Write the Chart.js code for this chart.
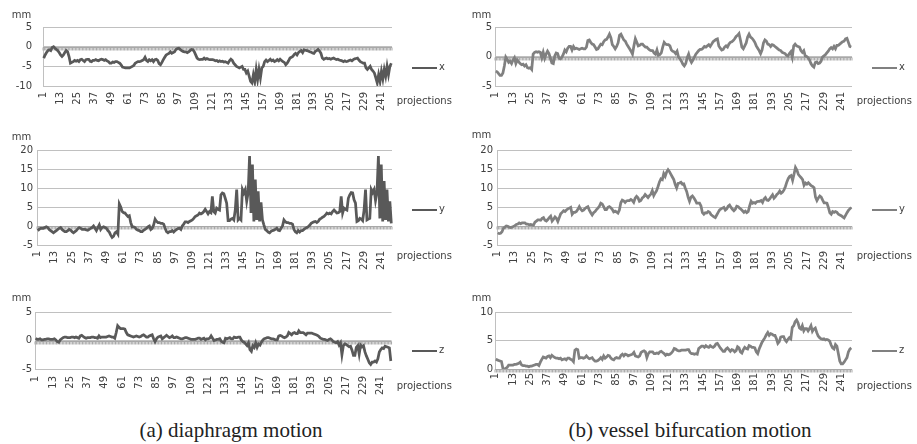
<!DOCTYPE html>
<html>
<head>
<meta charset="utf-8">
<script src="https://cdn.jsdelivr.net/npm/chart.js@4.4.1/dist/chart.umd.min.js"></script>
<style>
  body { margin: 0; background: #fff; width: 917px; height: 444px; position: relative; overflow: hidden; }
  canvas { position: absolute; }
  .txt { position: absolute; font-family: "DejaVu Sans", sans-serif; font-size: 10px; line-height: 12px; color: #404040; white-space: nowrap; }
  .legline { position: absolute; width: 25px; height: 0; }
  .cap { position: absolute; top: 417px; width: 460px; text-align: center; font-family: "Liberation Serif", serif; font-size: 21px; line-height: 26px; color: #222; white-space: nowrap; }
</style>
</head>
<body>
<div class="cap" style="left:1px">(a) diaphragm motion</div>
<div class="cap" style="left:460px">(b) vessel bifurcation motion</div>
<script>
// projection index 1..248, labelled every 12th
const projections = Array.from({ length: 248 }, (_, i) => String(i + 1));
const labelEvery = 12;

// (a) diaphragm motion, mm
const diaphragmX = [
  -2.9,-2.1,-1.5,-1.0,-0.8,-1.0,-0.2,0,-0.4,-0.7,-1.0,-1.5,
  -2.1,-2.5,-2.1,-1.5,-1.0,-1.3,-2.5,-4.2,-4.0,-3.8,-3.5,-3.7,
  -3.5,-3.8,-3.3,-3.2,-3.5,-3.8,-3.3,-3.2,-3.2,-3.7,-3.8,-3.5,
  -3.5,-3.3,-3.5,-3.6,-3.3,-3.2,-3.3,-3.5,-3.3,-3.6,-3.8,-4.2,
  -4.2,-3.9,-4.0,-3.8,-3.8,-4.0,-4.2,-4.6,-5.2,-5.3,-5.4,-5.4,
  -5.4,-5.4,-5.2,-5.0,-4.8,-4.2,-4.0,-3.8,-3.8,-3.7,-3.5,-3.3,
  -2.7,-3.5,-3.8,-3.3,-3.6,-3.3,-3.8,-3.3,-3.2,-3.5,-4.3,-4.6,
  -4.0,-3.3,-2.7,-2.1,-1.9,-1.7,-1.3,-1.7,-1.5,-1.3,-0.7,-0.5,
  -0.4,-0.7,-1.0,-1.2,-1.3,-1.3,-1.5,-1.3,-1.0,-0.7,-0.8,-1.3,
  -2.1,-2.9,-3.2,-3.3,-3.2,-3.2,-2.9,-3.2,-3.0,-3.2,-3.3,-3.3,
  -3.3,-3.4,-3.6,-3.5,-3.8,-3.6,-3.8,-3.7,-3.9,-3.8,-4.0,-4.2,
  -3.6,-3.2,-3.5,-4.2,-4.6,-5.0,-5.2,-5.4,-5.2,-5.0,-5.8,-5.8,
  -6.7,-6.2,-7.5,-8.8,-9.2,-7.1,-8.8,-5.8,-8.3,-5.8,-7.9,-5.4,
  -5.0,-3.8,-3.4,-3.8,-3.5,-3.2,-3.6,-3.4,-3.8,-3.6,-3.3,-3.6,
  -3.2,-3.5,-3.8,-4.0,-4.6,-4.2,-3.6,-2.9,-2.7,-2.5,-2.0,-1.7,
  -2.1,-1.5,-1.2,-1.0,-1.5,-0.8,-0.9,-1.0,-1.1,-1.3,-1.4,-1.6,
  -1.7,-1.2,-1.0,-0.7,-1.1,-1.7,-2.9,-3.2,-3.0,-2.9,-3.1,-3.0,
  -3.2,-3.0,-2.9,-3.1,-3.3,-3.2,-3.4,-3.5,-3.6,-3.8,-3.6,-3.8,
  -3.7,-3.5,-3.4,-3.6,-3.3,-3.1,-3.0,-2.9,-3.4,-3.8,-4.0,-4.2,
  -4.2,-5.4,-5.8,-5.4,-5.0,-5.8,-6.2,-6.7,-7.9,-9.2,-7.1,-8.8,
  -6.3,-8.2,-5.8,-7.5,-5.0,-7.1,-5.0,-4.2
];
const diaphragmY = [
  -1.2,-0.9,-0.6,-0.6,-0.6,-0.4,-0.2,-0.4,-0.9,-1.2,-1.5,-1.8,
  -1.5,-1.2,-0.9,-0.6,-0.4,-0.9,-1.2,-1.5,-1.5,-1.2,-0.9,-1.1,
  -1.5,-1.8,-1.5,-1.2,-0.7,-0.4,-0.6,-0.9,-0.9,-0.9,-1.0,-1.1,
  -0.9,-0.6,-0.4,0,-0.6,-1.2,-0.4,0.3,-0.9,-0.4,-0.2,-0.4,
  -0.6,-1.2,-1.6,-2.4,-3.0,-2.7,-1.8,-1.5,-2.1,5.8,5.0,3.8,
  3.5,3.4,2.9,2.5,2.7,0.9,-0.2,-0.2,-0.4,-0.9,-1.1,-1.2,
  -1.5,-1.5,-1.1,-0.9,-0.6,-0.2,0,-0.9,-0.6,0.3,1.8,1.2,
  0.9,0.9,0.7,0.7,0.5,-0.6,-1.5,-1.8,-1.5,-1.5,-1.2,-1.6,
  -1.2,-0.9,-0.7,-0.6,-0.9,0,0.5,1.1,1.1,0.9,1.2,1.4,
  1.6,2.0,2.5,2.7,2.9,3.4,3.2,3.4,3.8,4.4,3.8,3.2,
  3.8,3.5,7.8,3.8,3.4,4.7,4.4,4.2,8.2,8.7,8.5,7.3,
  6.0,1.4,1.4,1.8,2.0,1.6,4.2,9.6,1.6,2.0,1.6,9.6,
  8.7,9.6,6.5,8.7,18.4,3.4,16.2,1.2,12.2,1.6,9.1,1.2,
  6.2,1.6,0.3,-0.9,-1.2,-1.6,-1.8,-1.4,-1.2,-1.1,-0.9,-0.6,
  -1.1,-1.2,-0.6,0,1.6,1.1,0.9,0.9,0.7,0.7,0.5,-0.9,
  -1.5,-1.8,-1.2,-1.6,-1.2,-1.2,-0.9,-0.6,-0.4,-0.2,0.2,0.7,
  0.9,1.1,1.2,0.9,1.2,1.8,2.0,2.3,2.5,2.9,3.4,3.2,
  3.4,3.2,3.8,4.2,3.8,3.4,3.5,3.8,7.8,3.4,4.7,4.4,
  4.2,7.3,8.2,8.8,8.7,6.9,6.0,1.2,1.4,2.0,1.8,1.4,
  4.2,9.6,1.6,1.8,2.0,9.6,8.8,9.6,6.7,8.7,18.4,2.0,
  16.2,1.2,11.8,1.6,9.6,1.2,6.5,0.7
];
const diaphragmZ = [
  0.4,0.2,0.2,0.3,0.1,0.1,0.2,0.2,0.3,0.3,0.2,0.2,
  0.2,0.3,0.1,-0.2,-0.3,0.1,0.3,0.5,0.6,0.6,0.5,0.5,
  0.5,0.6,0.6,0.5,0.6,0.5,0.4,0.8,0.9,0.7,0.5,0.4,
  0.5,0.5,0.5,0.6,0.6,0.5,0.5,0.4,0.8,0.5,0.6,0.6,
  0.6,0.6,0.7,0.8,0.7,0.6,0.6,0.4,1.4,2.6,2.3,2.1,
  2.1,2.1,2.0,1.4,1.0,0.9,0.8,0.7,0.6,0.7,0.8,0.7,
  0.6,0.7,0.9,1.0,0.8,0.6,0.6,0.8,0.9,1.0,0.3,-0.2,
  0.3,0.6,0.7,0.8,0.3,0.5,0.7,0.9,0.7,0.5,0.6,0.8,
  0.5,0.5,0.6,0.5,0.4,0.3,0.3,0.4,0.5,0.5,0.4,0.3,
  0.2,0.2,0.2,0.2,0.3,0.4,0.4,0.2,0.3,0.4,0.1,0.3,
  0.3,0.4,0.8,0.4,0,0.1,0.2,0.2,0.3,-0.1,-0.3,-0.4,
  0.4,0.3,0.4,0.5,0.3,0.3,0.6,0.5,0.5,0.6,0.6,0.1,
  -0.2,-0.3,-0.6,-0.9,-0.4,-1.6,-1.9,-0.9,-1.2,-0.4,-1.2,-0.6,
  -0.8,-0.3,0.1,0.3,0.4,0.5,0.5,0.4,0.3,0.3,0.2,0.1,
  0.1,0.8,0.9,0.8,0.6,0.5,0.6,0.8,1.4,1.2,1.0,1.3,
  1.4,1.2,1.2,1.7,1.4,1.4,1.4,1.2,1.0,1.3,1.3,1.3,
  1.3,1.2,1.1,1.0,0.9,0.7,0.4,0.3,0.2,0.2,0.1,0,
  0.2,0.3,0.1,-0.2,-0.3,-0.4,-0.2,-0.8,-0.4,-2.5,-0.9,-0.6,
  -0.7,-0.9,-1.1,-1.0,-1.7,-2.6,-2.6,-1.2,-0.9,-2.4,-0.8,-1.1,
  -0.9,-2.0,-2.7,-3.3,-3.9,-4.2,-3.8,-3.8,-3.6,-3.8,-3.2,-2.0,
  -1.6,-1.3,-1.4,-1.0,-1.1,-1.2,-1.3,-3.6
];

// (b) vessel bifurcation motion, mm
const vesselX = [
  -2.5,-2.6,-2.9,-3.2,-3.2,-2.8,-1.6,-0.1,-0.5,-1.0,-0.8,-1.2,
  -0.6,-0.2,-1.2,-0.6,-0.9,-1.2,-1.4,-1.3,-1.6,-1.4,-1.9,-2.0,
  -1.9,-2.2,0.4,0.7,0.8,0.7,0.8,0.7,-0.2,0.7,-0.3,0.4,
  0.9,0.5,-0.3,-1.1,-1.2,0.1,0.6,0.5,-0.3,-0.4,-0.1,0.4,
  1.1,0.8,1.4,1.7,1.7,1.1,1.7,1.3,1.4,1.3,1.2,1.3,
  1.4,1.3,1.3,1.6,2.7,2.8,2.4,2.1,2.0,1.6,1.2,1.3,
  1.7,2.1,2.0,2.5,2.8,2.9,3.3,3.8,3.2,2.0,1.7,1.3,
  1.7,2.3,3.6,3.8,3.3,2.8,2.6,2.1,1.7,1.3,0.9,0.4,
  1.8,3.0,2.4,1.8,1.9,2.1,2.1,1.8,1.6,1.6,1.3,1.1,
  1.0,1.0,0.6,0.4,1.1,0.2,0.3,0.6,1.6,2.4,2.1,2.0,
  2.0,1.8,1.1,0.9,0.8,0.5,0.9,-0.1,-0.4,-0.8,-1.3,-1.6,
  -1.2,-0.2,0.4,-0.5,-1.0,-0.6,-0.1,0.4,0.7,1.0,1.2,1.2,
  1.4,1.7,1.6,1.8,2.0,1.7,2.1,2.5,2.7,2.9,3.0,1.8,
  1.4,1.1,1.2,1.6,1.8,1.6,2.1,2.4,2.5,2.7,3.0,3.4,
  3.6,3.9,2.8,1.6,1.3,1.8,2.3,3.3,3.8,3.3,3.1,2.8,
  2.4,1.8,1.4,1.0,0.5,1.1,2.3,2.8,2.6,2.1,2.0,1.7,
  2.0,1.9,1.7,1.5,1.3,1.1,1.0,0.7,0.6,0.5,0.2,0.1,
  0.5,0.8,-0.1,1.8,2.1,1.8,1.7,1.6,1.0,0.7,1.0,0.1,
  0,-0.2,-0.6,-1.2,-1.6,-1.8,-1.0,-0.9,-1.2,-1.1,-0.8,-0.1,
  0.1,0.3,0.6,0.9,1.3,1.5,1.3,1.7,1.3,1.9,1.9,2.1,
  2.3,2.5,2.6,3.0,3.1,2.4,1.7,1.6
];
const vesselY = [
  -1.8,-2.0,-1.9,-1.5,-0.6,-0.3,0,-0.1,-0.3,-0.4,-0.3,-0.1,
  0.1,0.4,0.5,0.8,0.6,0.8,0.8,0.8,0.5,0.5,0.3,0.4,
  0.3,0.2,1.0,1.3,1.6,1.6,1.5,2.0,2.2,1.5,1.3,1.7,
  2.2,2.6,1.3,1.8,2.4,2.0,1.2,2.2,3.2,3.6,4.0,3.8,
  4.2,4.5,4.7,4.9,3.1,3.6,3.6,3.8,4.4,5.1,4.4,4.0,
  4.2,4.6,4.9,5.1,4.2,3.5,2.9,3.5,3.8,4.3,4.7,5.2,
  6.0,5.8,5.1,4.3,4.3,4.9,5.1,4.8,4.4,3.7,3.9,3.7,
  3.4,4.2,6.1,6.8,6.6,6.2,6.6,6.7,6.7,7.0,6.7,6.2,
  7.3,7.8,7.4,6.5,6.7,7.4,7.7,8.3,7.9,7.5,8.0,8.4,
  9.3,8.0,8.7,9.3,10.4,11.6,12.4,12.2,13.8,13.1,14.2,14.8,
  14.3,13.6,12.9,12.2,10.9,10.0,11.2,11.3,11.5,11.0,11.1,10.0,
  9.1,7.6,6.5,7.6,7.9,7.4,6.8,6.0,6.0,6.0,5.3,3.5,
  3.1,3.5,3.4,3.8,3.6,3.0,2.7,2.4,2.2,2.9,3.6,4.2,
  4.5,4.7,4.9,4.2,4.5,5.2,5.5,4.9,4.4,4.0,4.4,5.2,
  5.1,4.7,4.4,4.0,3.6,3.9,3.5,3.8,5.3,6.5,6.0,6.2,
  6.0,6.4,6.5,6.5,6.7,6.2,7.1,7.5,6.8,6.7,7.1,7.7,
  8.2,7.3,7.7,8.3,8.6,9.2,8.6,8.9,9.5,10.4,11.6,12.5,
  13.1,13.3,12.0,13.6,15.4,14.7,13.6,13.1,12.7,12.2,10.7,11.3,
  11.0,11.4,11.0,10.6,10.4,10.1,7.6,6.7,7.4,7.9,7.6,6.8,
  6.1,6.1,6.0,4.9,3.5,3.1,3.8,3.6,3.8,3.6,3.1,2.9,
  2.7,2.4,2.1,2.8,3.5,4.1,4.5,4.9
];
const vesselZ = [
  1.7,1.6,1.5,1.4,1.3,0.1,0,0.1,0.3,0.7,0.7,0.7,
  0.7,0.8,0.8,0.9,1.0,1.2,0.7,0.6,0.6,0.5,0.5,0.4,
  0.5,0.5,0.6,0.7,0.8,0.8,0.6,1.2,1.7,2.1,2.0,1.9,
  2.2,2.3,2.0,2.4,2.2,2.0,1.9,1.9,1.8,1.9,1.6,1.7,
  1.8,1.6,1.9,1.9,1.7,1.6,1.3,3.3,3.5,3.4,1.9,2.0,
  2.0,1.9,2.0,2.3,2.0,1.8,1.9,2.0,1.6,1.4,1.4,1.5,
  1.7,2.0,1.7,2.3,1.9,2.1,2.4,2.3,1.9,1.7,1.6,1.9,
  2.0,1.9,1.9,2.4,2.6,2.3,2.6,2.5,2.3,2.4,2.5,2.6,
  2.9,2.3,2.2,2.1,2.3,2.9,3.1,3.2,3.0,2.0,2.7,3.0,
  3.0,3.0,2.7,2.7,2.8,2.7,3.0,3.1,2.9,2.7,2.4,2.6,
  2.5,2.6,2.8,3.1,3.6,3.5,3.3,3.2,3.2,3.3,3.3,3.3,
  3.3,3.4,3.4,2.9,2.7,2.7,2.6,2.7,2.6,3.6,3.8,4.0,
  4.0,3.8,4.1,3.9,3.8,4.1,3.9,3.8,4.0,4.4,4.5,4.1,
  3.7,3.4,3.1,3.1,3.5,3.7,3.4,3.1,3.4,3.3,3.0,3.2,
  3.9,3.7,3.0,2.8,3.4,3.8,3.6,3.5,4.1,4.0,3.8,3.8,
  3.7,3.0,2.7,3.5,4.1,4.7,5.1,5.5,6.0,6.4,5.9,6.2,
  6.1,5.9,5.9,5.3,4.5,4.8,5.6,5.7,5.7,5.1,4.8,5.2,
  5.5,5.3,7.3,7.6,8.3,8.6,8.1,7.2,7.0,7.6,6.7,7.1,
  7.1,6.7,7.1,7.6,6.6,7.0,7.2,6.4,5.8,5.5,5.3,5.2,
  5.3,5.1,5.2,5.1,4.9,4.2,3.7,3.5,4.3,4.0,2.7,1.4,
  0.9,0.9,1.2,1.6,2.0,3.0,3.5,3.7
];

// layout of the six small charts (pixel boxes of the plot areas)
const panels = [
  { name: "x", data: diaphragmX, x0: 0,   plot: { l: 43,  r: 392, t: 27,    b: 86 },    min: -10, max: 5,  yPad: 11, xPad: 6, color: "#595959", mmY: 15,    legY: 68.3, projY: 100.7 },
  { name: "y", data: diaphragmY, x0: 0,   plot: { l: 37,  r: 392, t: 150,   b: 245 },   min: -5,  max: 20, yPad: 4,  xPad: 6, color: "#595959", mmY: 136.7, legY: 210,  projY: 256 },
  { name: "z", data: diaphragmZ, x0: 0,   plot: { l: 35,  r: 392, t: 312,   b: 369 },   min: -5,  max: 5,  yPad: 3,  xPad: 7, color: "#595959", mmY: 298.3, legY: 351,  projY: 386 },
  { name: "x", data: vesselX,    x0: 460, plot: { l: 495, r: 852, t: 27,    b: 86 },    min: -5,  max: 5,  yPad: 3,  xPad: 6, color: "#808080", mmY: 15,    legY: 68.3, projY: 100.7 },
  { name: "y", data: vesselY,    x0: 460, plot: { l: 497, r: 852, t: 149.5, b: 244.5 }, min: -5,  max: 20, yPad: 4,  xPad: 6, color: "#808080", mmY: 135,   legY: 210,  projY: 256 },
  { name: "z", data: vesselZ,    x0: 460, plot: { l: 495, r: 852, t: 312,   b: 369 },   min: 0,   max: 10, yPad: 2,  xPad: 4, color: "#808080", mmY: 298.3, legY: 351,  projY: 386 }
];

const textColor = "#404040";
const gridColor = "#c0c0c0";
const padTop = 20;
const xAxisHeight = 34;

// tick marks along the zero line, one per category boundary
const zeroTicks = {
  id: "zeroTicks",
  beforeDatasetsDraw(chart) {
    const xs = chart.scales.x, ys = chart.scales.y, ctx = chart.ctx;
    const n = chart.data.labels.length;
    const y0 = Math.round(ys.getPixelForValue(0)) + 0.5;
    ctx.save();
    ctx.strokeStyle = "#a8a8a8";
    ctx.lineWidth = 1;
    ctx.beginPath();
    for (let i = 0; i <= n; i++) {
      let x;
      if (i === 0) x = xs.left;
      else if (i === n) x = xs.right;
      else x = (xs.getPixelForValue(i - 1) + xs.getPixelForValue(i)) / 2;
      ctx.moveTo(x, y0);
      ctx.lineTo(x, y0 + 3);
    }
    ctx.moveTo(xs.left, y0);
    ctx.lineTo(xs.right, y0);
    ctx.stroke();
    ctx.restore();
  }
};

function addText(str, left, centerY) {
  const d = document.createElement("div");
  d.className = "txt";
  d.textContent = str;
  d.style.left = left + "px";
  d.style.top = (centerY - 6) + "px";
  document.body.appendChild(d);
}

panels.forEach((p) => {
  const top = p.plot.t - padTop;
  const width = p.plot.r + 8 - p.x0;
  const height = p.plot.b + xAxisHeight - top;

  const cv = document.createElement("canvas");
  cv.width = width;
  cv.height = height;
  cv.style.left = p.x0 + "px";
  cv.style.top = top + "px";
  cv.style.width = width + "px";
  cv.style.height = height + "px";
  document.body.appendChild(cv);

  new Chart(cv, {
    type: "line",
    data: {
      labels: projections,
      datasets: [{
        label: p.name,
        data: p.data,
        borderColor: p.color,
        borderWidth: 2.75,
        pointRadius: 0,
        tension: 0,
        fill: false
      }]
    },
    options: {
      responsive: false,
      animation: false,
      devicePixelRatio: 1,
      layout: { padding: { left: 0, right: 8, top: padTop, bottom: 0 } },
      plugins: { legend: { display: false }, tooltip: { enabled: false } },
      scales: {
        x: {
          type: "category",
          offset: true,
          grid: { display: false, drawTicks: false },
          border: { display: false },
          ticks: {
            autoSkip: false,
            minRotation: 90,
            maxRotation: 90,
            padding: p.xPad,
            color: textColor,
            font: { family: "DejaVu Sans", size: 10 },
            callback: (v, i) => (i % labelEvery === 0 ? projections[i] : null)
          },
          afterFit: (s) => { s.height = xAxisHeight; }
        },
        y: {
          min: p.min,
          max: p.max,
          grid: { color: gridColor, drawTicks: false },
          border: { display: true, color: gridColor },
          ticks: {
            stepSize: 5,
            padding: p.yPad,
            color: textColor,
            font: { family: "DejaVu Sans", size: 10 }
          },
          afterFit: (s) => { s.width = p.plot.l - p.x0; }
        }
      }
    },
    plugins: [zeroTicks]
  });

  // axis titles and legend
  addText("mm", p.x0 + 11.7, p.mmY);
  addText("projections", p.x0 + 396.7, p.projY);
  const leg = document.createElement("div");
  leg.className = "legline";
  leg.style.left = (p.x0 + 411.7) + "px";
  leg.style.top = (p.legY - 1.25) + "px";
  leg.style.borderTop = "2.5px solid " + p.color;
  document.body.appendChild(leg);
  addText(p.name, p.x0 + 439, p.legY - 1.5);
});
</script>
</body>
</html>
